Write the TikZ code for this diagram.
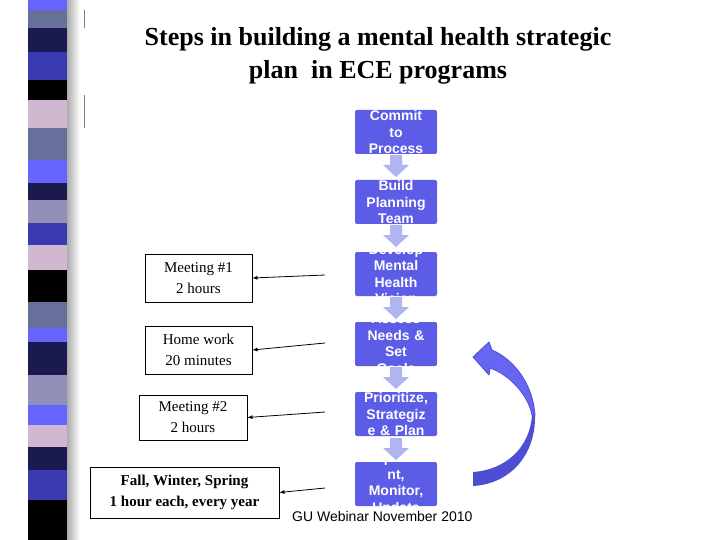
\documentclass[tikz,border=0pt]{standalone}
\usepackage{fontspec}
\setmainfont{Liberation Serif}
\setsansfont{Liberation Sans}
\begin{document}
\begin{tikzpicture}[x=1pt,y=-1pt,
  steptext/.style={text=white,font=\sffamily\bfseries\fontsize{14}{16.5}\selectfont,align=center,text width=86pt},
  lbox/.style={draw=black,line width=0.6pt,font=\fontsize{15}{21}\selectfont,align=center,inner sep=0pt},
  con/.style={-latex,line width=0.8pt}]
\definecolor{stepblue}{HTML}{5C5CE6}
\definecolor{arrowlav}{HTML}{B0B4F0}
\definecolor{curv}{HTML}{4E4ED2}
\definecolor{curvl}{HTML}{6666F0}
\definecolor{sA}{HTML}{6666FF}\definecolor{sB}{HTML}{66709A}\definecolor{sC}{HTML}{1A1A50}
\definecolor{sD}{HTML}{3A3AB0}\definecolor{sE}{HTML}{D0B8D0}\definecolor{sF}{HTML}{9090B8}
\useasboundingbox (0,0) rectangle (720,540);
\fill[white] (0,0) rectangle (720,540);
\shade[left color=gray!70,right color=white] (66,0) rectangle (80,540);
\foreach \a/\b/\c in {0/10/sA,10/28/sB,28/52/sC,52/80/sD,80/100/black,100/128/sE,128/160/sB,160/183/sA,183/200/sC,200/223/sF,223/245/sD,245/270/sE,270/302/black,302/328/sB,328/342/sA,342/375/sC,375/405/sF,405/425/sA,425/447/sE,447/470/sC,470/500/sD,500/540/black}
  \fill[\c] (28,\a) rectangle (67,\b);
\draw[gray,line width=0.8pt] (84,10) -- (84,28) (84,95) -- (84,128);
\node[font=\bfseries\fontsize{26}{33}\selectfont,align=center] (title) at (378,56) {Steps in building a mental health strategic\\plan\ \ in ECE programs};
\foreach \n/\y/\t in {s1/110/{Commit\\to\\Process},s2/180/{Build\\Planning\\Team},s3/252/{Develop\\Mental\\Health\\Vision},s4/322/{Assess\\Needs \&\\Set\\Goals},s5/392/{Prioritize,\\Strategiz\\e \& Plan},s6/462/{Impleme\\nt,\\Monitor,\\Update}}{
  \fill[stepblue,rounded corners=2pt] (355,\y) rectangle (437,\y+44);
  \coordinate (\n) at (396,\y+22);
  \begin{scope}\clip (355,\y) rectangle (437,\y+44);
  \node[steptext] at (396,\y+22) {\t};
  \end{scope}}
\foreach \y in {155,225,297,367,438}
  \fill[arrowlav] (390,\y) -- (402,\y) -- (402,\y+10) -- (409,\y+10) -- (396,\y+22) -- (383,\y+10) -- (390,\y+10) -- cycle;
% curved arrow: lower part
\fill[curv] (473,486) .. controls (510,484) and (536,455) .. (535,415)
  -- (532,415) .. controls (530,448) and (505,470) .. (473,472) -- cycle;
% upper part with head
\filldraw[fill=curvl,draw=curv,line width=0.8pt,line join=round] (535,415) .. controls (533,385) and (515,360) .. (492,350)
  -- (489,342) -- (473,357) -- (489,375) -- (490,368)
  .. controls (510,375) and (528,395) .. (532,415) -- cycle;
\node[lbox,minimum width=107pt,minimum height=48pt] (m1) at (198.5,278) {Meeting \#1\\2 hours};
\node[lbox,minimum width=107pt,minimum height=48pt] (hw) at (198.5,350) {Home work\\20 minutes};
\node[lbox,minimum width=108pt,minimum height=45pt] (m2) at (193,417.5) {Meeting \#2\\2 hours};
\node[lbox,font=\bfseries\fontsize{15}{21}\selectfont,minimum width=189pt,minimum height=51pt] (fw) at (184.5,492.5) {Fall, Winter, Spring\\1 hour each, every year};
\coordinate (c1) at (325,275);\coordinate (c2) at (325,343);
\coordinate (c3) at (325,412);\coordinate (c4) at (325,488);
\draw[con] (c1) -- (m1.east);
\draw[con] (c2) -- (hw.east);
\draw[con] (c3) -- (m2.east);
\draw[con] (c4) -- (fw.east);
\node[font=\sffamily\fontsize{14}{16}\selectfont,anchor=west,inner sep=0pt] (foot) at (292,516) {GU Webinar November 2010};
\end{tikzpicture}
\end{document}
